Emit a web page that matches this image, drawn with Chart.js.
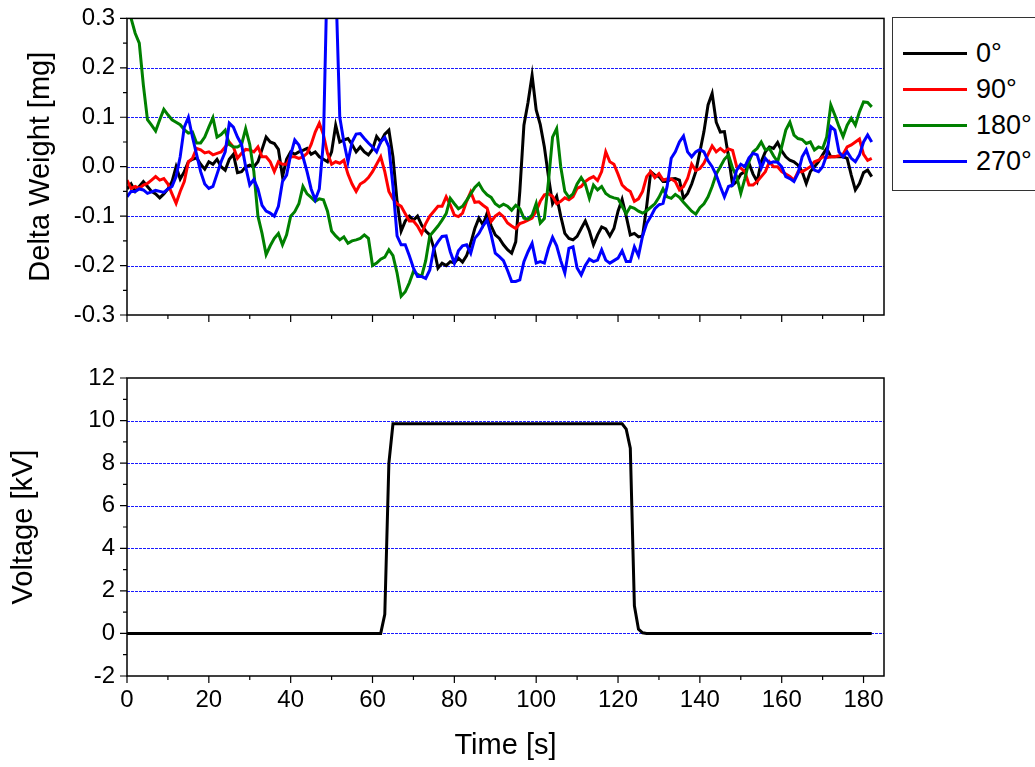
<!DOCTYPE html>
<html>
<head>
<meta charset="utf-8">
<script src="https://cdn.jsdelivr.net/npm/chart.js@4.4.1/dist/chart.umd.min.js"></script>
<style>
html,body{margin:0;padding:0;background:#fff;overflow:hidden;width:1035px;height:767px;}
#c1{position:absolute;left:0;top:-8px;}
#c2{position:absolute;left:0;top:345px;}
#legend{position:absolute;left:892px;top:17px;width:170px;height:174px;border:1px solid #333;box-sizing:border-box;background:#fff;
  font-family:"Liberation Sans",Arial,sans-serif;font-size:27px;color:#000;}
#legend .ln{position:absolute;left:10px;width:64px;height:3px;}
#legend .tx{position:absolute;left:83px;height:32px;line-height:32px;white-space:nowrap;}
</style>
</head>
<body>
<canvas id="c1" width="1035" height="353"></canvas>
<canvas id="c2" width="1035" height="422"></canvas>
<div id="legend"></div>
<script>
// ---------- data ----------
const time = [0,1,2,3,4,5,6,7,8,9,10,11,12,13,14,15,16,17,18,19,20,21,22,23,24,25,26,27,28,29,30,31,32,33,34,35,36,37,38,39,40,41,42,43,44,45,46,47,48,49,50,51,52,53,54,55,56,57,58,59,60,61,62,63,64,65,66,67,68,69,70,71,72,73,74,75,76,77,78,79,80,81,82,83,84,85,86,87,88,89,90,91,92,93,94,95,96,97,98,99,100,101,102,103,104,105,106,107,108,109,110,111,112,113,114,115,116,117,118,119,120,121,122,123,124,125,126,127,128,129,130,131,132,133,134,135,136,137,138,139,140,141,142,143,144,145,146,147,148,149,150,151,152,153,154,155,156,157,158,159,160,161,162,163,164,165,166,167,168,169,170,171,172,173,174,175,176,177,178,179,180,181,182];

const seriesNames = ['0°','90°','180°','270°'];
const seriesColors = ['#000000','#ff0000','#008000','#0000ff'];

const deg0 = [
-0.045,-0.035,-0.05,-0.04,-0.03,-0.04,-0.05,-0.055,-0.063,-0.055,
-0.045,-0.03,0.0,-0.025,-0.01,0.01,0.015,0.018,0.005,-0.005,
0.01,0.005,0.015,0.0,-0.007,0.015,0.025,-0.012,-0.01,0.0,
0.003,0.0,0.01,0.035,0.06,0.05,0.047,0.035,-0.02,0.015,
0.03,0.025,0.03,0.033,0.037,0.025,0.03,0.02,0.015,0.01,
0.03,0.084,0.05,0.054,0.057,0.045,0.03,0.04,0.03,0.024,
0.035,0.061,0.05,0.066,0.074,0.02,-0.07,-0.13,-0.11,-0.1,
-0.108,-0.1,-0.118,-0.13,-0.138,-0.165,-0.205,-0.195,-0.2,-0.192,
-0.195,-0.185,-0.193,-0.18,-0.155,-0.125,-0.104,-0.118,-0.094,-0.12,
-0.138,-0.145,-0.158,-0.168,-0.175,-0.152,-0.05,0.084,0.13,0.185,
0.115,0.085,0.04,-0.02,-0.075,-0.06,-0.1,-0.135,-0.145,-0.148,
-0.141,-0.125,-0.11,-0.13,-0.158,-0.138,-0.122,-0.126,-0.14,-0.125,
-0.09,-0.066,-0.1,-0.138,-0.135,-0.142,-0.14,-0.08,-0.01,-0.017,
-0.02,-0.03,-0.03,-0.025,-0.024,-0.027,-0.064,-0.054,-0.035,-0.01,
0.03,0.071,0.125,0.148,0.09,0.07,0.071,0.02,-0.037,-0.03,
-0.015,-0.01,0.007,-0.015,-0.03,0.01,0.03,0.04,0.037,0.049,
0.032,0.02,0.013,0.01,0.003,-0.01,-0.034,-0.01,0.0,0.01,
0.024,0.037,0.02,0.02,0.02,0.02,0.017,-0.017,-0.047,-0.034,
-0.012,-0.007,-0.02];

const deg90 = [
-0.027,-0.044,-0.04,-0.044,-0.037,-0.034,-0.027,-0.02,-0.027,-0.024,
-0.035,-0.055,-0.074,-0.05,-0.03,0.01,0.017,0.037,0.034,0.028,
0.03,0.024,0.027,0.03,0.04,0.05,0.04,0.017,0.027,0.035,
0.034,0.03,0.04,0.02,0.02,0.01,-0.01,0.01,0.005,0.005,
0.02,0.02,0.017,0.02,0.027,0.045,0.07,0.088,0.065,0.027,
0.005,0.01,0.007,0.013,-0.015,-0.035,-0.05,-0.035,-0.03,-0.022,
-0.01,0.005,0.02,-0.01,-0.05,-0.065,-0.075,-0.08,-0.095,-0.11,
-0.11,-0.12,-0.135,-0.115,-0.1,-0.09,-0.08,-0.08,-0.061,-0.077,
-0.098,-0.101,-0.094,-0.07,-0.051,-0.072,-0.071,-0.078,-0.084,-0.111,
-0.1,-0.094,-0.101,-0.114,-0.12,-0.125,-0.115,-0.112,-0.108,-0.104,
-0.09,-0.07,-0.057,-0.055,-0.06,-0.075,-0.07,-0.063,-0.067,-0.061,
-0.044,-0.04,-0.03,-0.024,-0.02,-0.028,-0.01,0.03,0.01,0.005,
-0.015,-0.037,-0.045,-0.05,-0.07,-0.065,-0.05,-0.02,-0.01,-0.022,
-0.014,-0.027,-0.025,-0.025,-0.03,-0.047,-0.04,-0.024,0.005,-0.008,
-0.004,0.007,0.025,0.042,0.03,0.037,0.03,0.036,0.033,0.0,
-0.003,-0.01,-0.037,-0.037,-0.03,-0.02,-0.01,0.01,0.0,0.0,
-0.01,-0.015,-0.02,-0.027,-0.01,-0.01,-0.005,0.0,0.01,0.013,
0.02,0.018,0.02,0.02,0.022,0.025,0.04,0.044,0.05,0.056,
0.025,0.013,0.017];

const deg180 = [
0.33,0.3,0.27,0.25,0.165,0.095,0.084,0.072,0.095,0.116,
0.105,0.095,0.09,0.085,0.075,0.068,0.07,0.048,0.048,0.06,
0.08,0.099,0.06,0.065,0.074,0.045,0.04,0.04,0.045,0.077,
0.045,-0.01,-0.1,-0.135,-0.178,-0.16,-0.145,-0.135,-0.158,-0.138,
-0.1,-0.091,-0.075,-0.04,-0.055,-0.062,-0.07,-0.065,-0.067,-0.09,
-0.13,-0.14,-0.148,-0.142,-0.155,-0.15,-0.148,-0.145,-0.138,-0.145,
-0.2,-0.195,-0.187,-0.183,-0.168,-0.18,-0.215,-0.262,-0.253,-0.235,
-0.212,-0.218,-0.222,-0.19,-0.14,-0.13,-0.12,-0.108,-0.095,-0.064,
-0.075,-0.085,-0.08,-0.068,-0.055,-0.042,-0.034,-0.048,-0.057,-0.062,
-0.075,-0.081,-0.076,-0.08,-0.088,-0.078,-0.085,-0.104,-0.106,-0.098,
-0.074,-0.114,-0.105,-0.03,0.06,0.077,0.0,-0.05,-0.062,-0.055,
-0.035,-0.022,-0.035,-0.064,-0.037,-0.047,-0.04,-0.054,-0.06,-0.063,
-0.065,-0.08,-0.095,-0.081,-0.084,-0.09,-0.094,-0.089,-0.082,-0.075,
-0.062,-0.045,-0.061,-0.064,-0.056,-0.062,-0.072,-0.081,-0.09,-0.096,
-0.083,-0.075,-0.061,-0.04,-0.015,0.0,0.015,0.024,-0.003,-0.02,
-0.054,-0.024,0.01,0.03,0.037,0.05,0.034,0.037,0.022,0.01,
0.04,0.074,0.09,0.064,0.057,0.055,0.047,0.05,0.034,0.04,
0.037,0.06,0.125,0.104,0.081,0.061,0.084,0.098,0.084,0.111,
0.131,0.13,0.121];

const deg270 = [
-0.061,-0.05,-0.05,-0.045,-0.047,-0.054,-0.051,-0.048,-0.05,-0.052,
-0.045,-0.04,-0.02,0.02,0.08,0.1,0.06,0.025,-0.01,-0.035,
-0.044,-0.04,-0.015,0.01,0.03,0.088,0.08,0.06,0.045,0.0,
-0.037,-0.026,-0.045,-0.078,-0.09,-0.094,-0.1,-0.08,-0.03,-0.017,
0.024,0.054,0.044,0.02,-0.01,-0.045,-0.067,-0.045,0.05,0.42,
0.5,0.38,0.1,0.05,0.01,0.05,0.066,0.067,0.057,0.048,
0.04,0.03,0.05,0.059,0.04,-0.04,-0.14,-0.158,-0.158,-0.18,
-0.205,-0.222,-0.222,-0.226,-0.209,-0.165,-0.152,-0.141,-0.14,-0.172,
-0.195,-0.17,-0.16,-0.158,-0.175,-0.145,-0.135,-0.12,-0.108,-0.138,
-0.175,-0.182,-0.19,-0.21,-0.232,-0.232,-0.229,-0.192,-0.172,-0.155,
-0.195,-0.192,-0.195,-0.165,-0.143,-0.16,-0.19,-0.215,-0.165,-0.162,
-0.205,-0.219,-0.2,-0.187,-0.192,-0.189,-0.168,-0.189,-0.195,-0.19,
-0.185,-0.17,-0.192,-0.192,-0.162,-0.18,-0.14,-0.115,-0.101,-0.085,
-0.077,-0.074,-0.04,0.017,0.03,0.05,0.062,0.03,0.02,0.03,
0.035,0.03,0.012,0.0,-0.017,-0.04,-0.061,-0.04,-0.037,-0.007,
0.005,0.0,0.018,0.027,0.024,-0.003,0.017,0.007,0.01,0.009,
0.0,-0.02,-0.024,-0.03,-0.013,0.02,0.034,0.01,-0.007,-0.01,
0.0,0.024,0.081,0.074,0.03,0.02,0.03,0.017,0.01,0.024,
0.05,0.064,0.05];

const voltageTime = [0, 62, 63, 64, 65, 121, 122, 123, 124, 125, 126, 127, 182];
const voltage     = [0, 0, 0.9, 8.0, 9.85, 9.85, 9.6, 8.7, 1.3, 0.2, 0.03, 0, 0];

const weightTicks  = [-0.3,-0.2,-0.1,0,0.1,0.2,0.3];
const voltageTicks = [-2,0,2,4,6,8,10,12];
const timeTicks    = [0,20,40,60,80,100,120,140,160,180];

// ---------- helpers ----------
const FONT = '"Liberation Sans", Arial, sans-serif';
const weightSeries = [deg0, deg90, deg180, deg270];

function minors(list){ const m=[]; for(let i=0;i<list.length-1;i++) m.push((list[i]+list[i+1])/2); return m; }

const frameTicks = {
  id: 'frameTicks',
  beforeDatasetsDraw(chart, args, o) {
    const {ctx, chartArea:a, scales} = chart;
    ctx.save();
    ctx.strokeStyle = '#1a1aff';
    ctx.lineWidth = 1;
    ctx.setLineDash([3,1]);
    o.grid.forEach(v => {
      const p = Math.round(scales.y.getPixelForValue(v)) + 0.5;
      ctx.beginPath(); ctx.moveTo(a.left, p); ctx.lineTo(a.right, p); ctx.stroke();
    });
    ctx.restore();
  },
  afterDatasetsDraw(chart, args, o) {
    const {ctx, chartArea:a, scales} = chart;
    ctx.save();
    ctx.strokeStyle = '#000';
    ctx.lineWidth = 1.2;
    ctx.beginPath();
    o.xMajor.forEach(v => { const p = scales.x.getPixelForValue(v); ctx.moveTo(p, a.bottom); ctx.lineTo(p, a.bottom + 7); });
    minors(o.xMajor).forEach(v => { const p = scales.x.getPixelForValue(v); ctx.moveTo(p, a.bottom); ctx.lineTo(p, a.bottom + 4); });
    o.yMajor.forEach(v => { const p = scales.y.getPixelForValue(v); ctx.moveTo(a.left, p); ctx.lineTo(a.left - 7, p); });
    minors(o.yMajor).forEach(v => { const p = scales.y.getPixelForValue(v); ctx.moveTo(a.left, p); ctx.lineTo(a.left - 4, p); });
    ctx.stroke();
    ctx.lineWidth = 1.5;
    ctx.strokeRect(a.left, a.top, a.right - a.left, a.bottom - a.top);
    ctx.restore();
  }
};

const tickFont = {family: FONT, size: 24};
const titleFont = {family: FONT, size: 29};

// ---------- top chart ----------
new Chart(document.getElementById('c1'), {
  type: 'line',
  data: {
    datasets: weightSeries.map((vals, i) => ({
      label: seriesNames[i],
      data: time.map((t, j) => ({x: t, y: vals[j]})),
      borderColor: seriesColors[i],
      backgroundColor: seriesColors[i],
      borderWidth: 3,
      pointRadius: 0,
      tension: 0,
      clip: 0,
      order: 3 - i
    }))
  },
  options: {
    responsive: false, animation: false, devicePixelRatio: 1,
    layout: {padding: {top: 0, right: 151, bottom: 0, left: 0}},
    plugins: {
      legend: {display: false}, tooltip: {enabled: false},
      frameTicks: {xMajor: timeTicks, yMajor: weightTicks, grid: weightTicks.slice(1, -1)}
    },
    scales: {
      x: {
        type: 'linear', min: 0, max: 185,
        grid: {display: false, drawTicks: false}, border: {display: false},
        ticks: {display: false},
        afterBuildTicks: s => { s.ticks = timeTicks.map(v => ({value: v})); },
        afterFit: s => { s.height = 30; }
      },
      y: {
        type: 'linear', min: -0.3, max: 0.3,
        grid: {display: false, drawTicks: false}, border: {display: false},
        ticks: {padding: 12, font: tickFont, color: '#000', callback: v => Number(v).toFixed(1)},
        afterBuildTicks: s => { s.ticks = weightTicks.map(v => ({value: v})); },
        title: {display: true, text: 'Delta Weight [mg]', font: titleFont, color: '#000', padding: {top: 24, bottom: 0}},
        afterFit: s => { s.width = 127; }
      }
    }
  },
  plugins: [frameTicks]
});

// ---------- bottom chart ----------
new Chart(document.getElementById('c2'), {
  type: 'line',
  data: {
    datasets: [{
      label: 'Voltage',
      data: voltageTime.map((t, j) => ({x: t, y: voltage[j]})),
      borderColor: '#000', backgroundColor: '#000',
      borderWidth: 3, pointRadius: 0, tension: 0, clip: 0
    }]
  },
  options: {
    responsive: false, animation: false, devicePixelRatio: 1,
    layout: {padding: {top: 33, right: 151, bottom: 0, left: 0}},
    plugins: {
      legend: {display: false}, tooltip: {enabled: false},
      frameTicks: {xMajor: timeTicks, yMajor: voltageTicks, grid: voltageTicks.slice(1, -1)}
    },
    scales: {
      x: {
        type: 'linear', min: 0, max: 185,
        grid: {display: false, drawTicks: false}, border: {display: false},
        ticks: {padding: 10, font: tickFont, color: '#000', maxRotation: 0, callback: v => String(v)},
        afterBuildTicks: s => { s.ticks = timeTicks.map(v => ({value: v})); },
        title: {display: true, text: 'Time [s]', font: titleFont, color: '#000', padding: {top: 0, bottom: 4}},
        afterFit: s => { s.height = 91; }
      },
      y: {
        type: 'linear', min: -2, max: 12,
        grid: {display: false, drawTicks: false}, border: {display: false},
        ticks: {padding: 12, font: tickFont, color: '#000', callback: v => String(v)},
        afterBuildTicks: s => { s.ticks = voltageTicks.map(v => ({value: v})); },
        title: {display: true, text: 'Voltage [kV]', font: titleFont, color: '#000', padding: {top: 7, bottom: 0}},
        afterFit: s => { s.width = 127; }
      }
    }
  },
  plugins: [frameTicks]
});

// ---------- legend ----------
const legend = document.getElementById('legend');
const rowCenters = [35, 71, 107, 143];
seriesNames.forEach((name, i) => {
  const ln = document.createElement('div');
  ln.className = 'ln';
  ln.style.top = (rowCenters[i] - 1.5) + 'px';
  ln.style.background = seriesColors[i];
  legend.appendChild(ln);
  const tx = document.createElement('div');
  tx.className = 'tx';
  tx.style.top = (rowCenters[i] - 16) + 'px';
  tx.textContent = name;
  legend.appendChild(tx);
});
</script>
</body>
</html>
